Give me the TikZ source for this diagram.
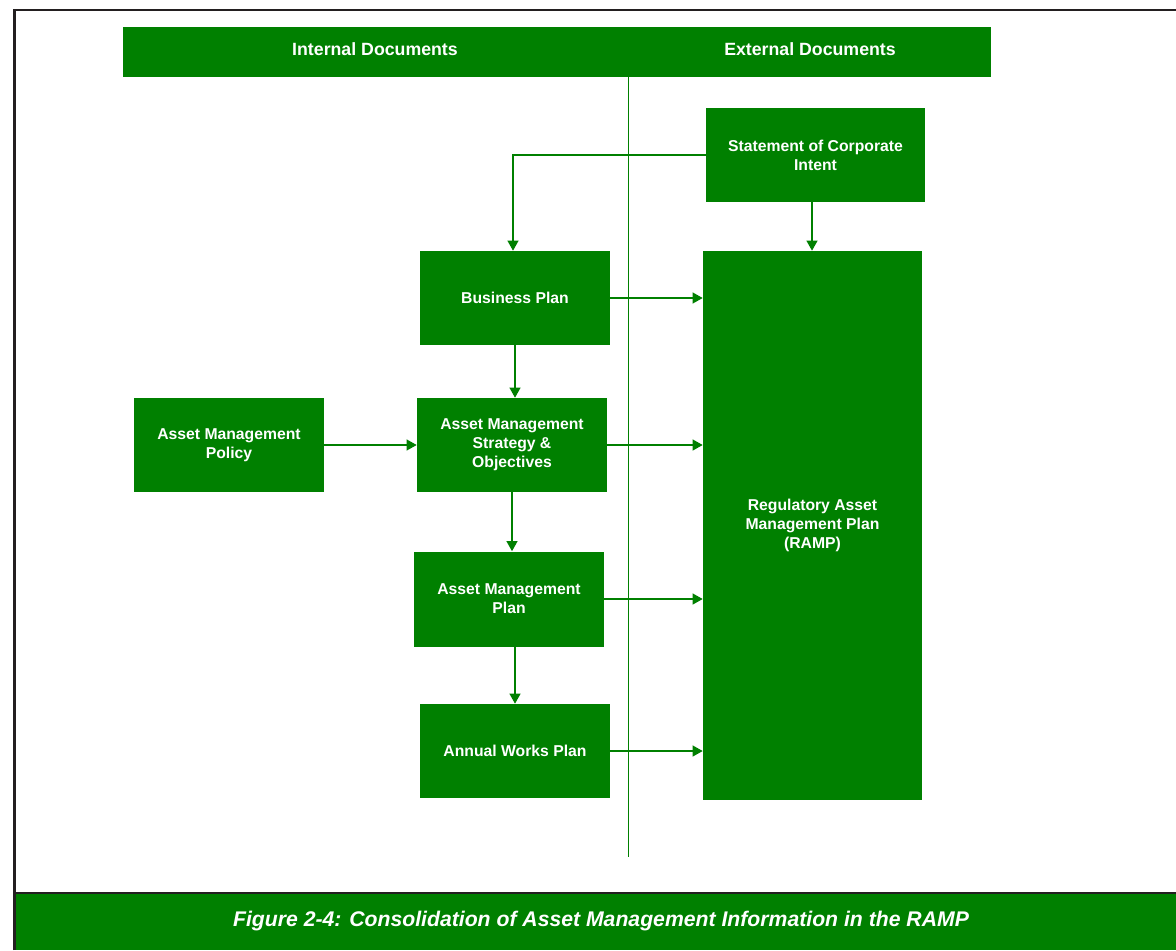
\documentclass[tikz,border=0pt]{standalone}
\usepackage{fontspec}
\setmainfont{Liberation Sans}
\usetikzlibrary{arrows.meta}
\definecolor{docgreen}{RGB}{0,128,0}
\definecolor{frame}{RGB}{35,31,32}
\begin{document}
\begin{tikzpicture}[x=0.75pt,y=-0.75pt,
  box/.style={fill=docgreen,draw=none,text=white,align=center,inner sep=2pt,
    font=\bfseries\fontsize{11.8}{14.2}\selectfont,
    minimum width=142.5pt,minimum height=70.5pt},
  widebox/.style={box,minimum width=164.25pt},
  arr/.style={draw=docgreen,line width=1.35pt,-{Triangle[length=7.5pt,width=8pt]}}]
\useasboundingbox (0,0) rectangle (1176,950);
\fill[white] (0,0) rectangle (1176,950);

% frame and caption band
\fill[docgreen] (15,893) rectangle (1176,950);
\draw[frame,line width=1.6pt] (14.5,950) -- (14.5,10) -- (1176,10);
\draw[frame,line width=1.6pt] (14.5,893) -- (1176,893);
\node[text=white,font=\bfseries\itshape\fontsize{15.9}{18}\selectfont] (cap) at (601,921)
  {Figure 2-4: Consolidation of Asset Management Information in the RAMP};

% header bar
\node[fill=docgreen,minimum width=651pt,minimum height=37.5pt,inner sep=0pt] (hdr) at (557,52) {};
\node[text=white,font=\bfseries\fontsize{13.3}{15}\selectfont] (int) at (375,49) {Internal Documents};
\node[text=white,font=\bfseries\fontsize{13.3}{15}\selectfont] (ext) at (810,49) {External Documents};

% divider between internal and external documents
\coordinate (divtop) at (628,77);
\coordinate (divbot) at (628,857);
\draw[docgreen,line width=0.6pt] (divtop) -- (divbot);

% document boxes
\node[widebox] (sci) at (815.5,155) {Statement of Corporate\\Intent};
\node[widebox,minimum height=411.75pt] (ramp) at (812.5,525.5) {Regulatory Asset\\Management Plan\\(RAMP)};
\node[box] (bp) at (515,298) {Business Plan};
\node[box] (amso) at (512,445) {Asset Management\\Strategy \&\\Objectives};
\node[box] (pol) at (229,445) {Asset Management\\Policy};
\node[box,minimum height=71.25pt] (amp) at (509,599) {Asset Management\\Plan};
\node[box] (awp) at (515,751) {Annual Works Plan};

% connectors
\draw[arr] (sci.west) -| ([xshift=-1.5pt]bp.north);
\draw[arr] ([xshift=-0.375pt]sci.south -| ramp.north) -- ([xshift=-0.375pt]ramp.north);
\draw[arr] (bp.east) -- (bp.east -| ramp.west);
\draw[arr] (bp.south) -- (bp.south |- amso.north);
\draw[arr] (pol.east) -- (amso.west);
\draw[arr] (amso.east) -- (amso.east -| ramp.west);
\draw[arr] (amso.south) -- (amso.south |- amp.north);
\draw[arr] (amp.east) -- (amp.east -| ramp.west);
\draw[arr] (amp.south -| awp.north) -- (awp.north);
\draw[arr] (awp.east) -- (awp.east -| ramp.west);
\end{tikzpicture}
\end{document}
